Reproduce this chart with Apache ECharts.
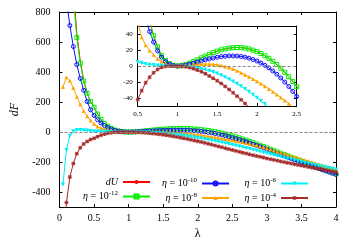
<!DOCTYPE html>
<html><head><meta charset="utf-8">
<script src="https://cdn.jsdelivr.net/npm/echarts@6/dist/echarts.min.js"></script>
<style>html,body{margin:0;padding:0;background:#fff}#c{width:350px;height:245px}</style>
</head><body><div id="c"></div>
<script>
const lambda = [0.05,0.10,0.15,0.20,0.25,0.30,0.35,0.40,0.45,0.50,0.55,0.60,0.65,0.70,0.75,0.80,0.85,0.90,0.95,1.00,
1.05,1.10,1.15,1.20,1.25,1.30,1.35,1.40,1.45,1.50,1.55,1.60,1.65,1.70,1.75,1.80,1.85,1.90,1.95,2.00,
2.05,2.10,2.15,2.20,2.25,2.30,2.35,2.40,2.45,2.50,2.55,2.60,2.65,2.70,2.75,2.80,2.85,2.90,2.95,3.00,
3.05,3.10,3.15,3.20,3.25,3.30,3.35,3.40,3.45,3.50,3.55,3.60,3.65,3.70,3.75,3.80,3.85,3.90,3.95,4.00];

const dU = [null,null,1600,960,660,475,345,260,203,165,120,84,56,38,24,13,7,3,0.8,0,
0.5,1.7,3.4,5.5,7.8,10.2,12.5,14.7,16.8,18.6,20.2,21.4,22.4,22.9,23.1,22.9,22.4,21.3,19.8,18.0,
15.6,12.8,9.6,5.9,1.8,-2.8,-7.9,-13.4,-19.4,-25.8,-32.4,-39.4,-46.8,-54.5,-62.5,-70.8,-79.3,-88,-96.9,-106,
-115,-124,-133,-142,-151,-160,-169,-178,-187,-196,-204.5,-213,-221.5,-230,-238.5,-247,-255.5,-264,-272,-280];

const eta12 = [null,null,1450,900,630,460,340,258,203,165,120,84,56,38,24,13,7,3,0.8,0,
0.5,1.7,3.4,5.5,7.8,10.2,12.5,14.7,16.8,18.6,20.2,21.4,22.4,22.9,23.1,22.9,22.4,21.3,19.8,18.0,
15.6,12.8,9.6,5.9,1.8,-2.8,-7.9,-13.4,-19.4,-25.8,-32.4,-39.4,-46.8,-54.5,-62.5,-70.8,-79.3,-88,-96.9,-106,
-115,-124,-133,-142,-151,-160,-169,-178,-187,-196,-204.5,-213,-221.5,-230,-238.5,-247,-255.5,-264,-272,-280];

const eta10 = [1150,880,710,570,450,357,278,203,148,110,82,60,43,30,19,11,5.5,2.2,0.5,0,
0.3,1.1,2.2,3.5,4.9,6.3,7.6,8.8,10.0,10.9,11.7,12.2,12.6,12.6,12.4,11.9,11.1,9.8,8.1,6.2,
3.7,0.8,-2.4,-6.2,-10.3,-15.0,-20.1,-25.6,-31.7,-38.1,-44.5,-51.3,-58.4,-65.8,-73.5,-81.4,-89.5,-97.8,-106.3,-115,
-123.8,-132.7,-141.6,-150.5,-159.4,-168.2,-177,-185.7,-194.3,-202.8,-211.2,-219.5,-227.7,-235.8,-243.8,-251.7,-259.5,-267.2,-274.8,-282.3];

const eta8 = [300,365,342,293,235,185,140,105,77,55,36,26,19.5,14,9,5.5,3,1.3,0.3,0,
0.3,0.8,1.3,1.8,2.2,2.5,2.6,2.5,2.1,1.5,0.6,-0.6,-2.0,-3.8,-5.9,-8.3,-11,-13.5,-16.2,-19,
-22,-25.2,-28.6,-32.1,-35.7,-39.4,-43.2,-47.1,-51.1,-55.2,-59.4,-63.8,-68.4,-73.3,-78.5,-84,-89.8,-95.9,-102.2,-108.7,
-115.4,-122.3,-129.3,-136.4,-143.5,-150.6,-157.7,-164.8,-171.9,-179,-186.1,-193.2,-200.3,-207.4,-214.5,-221.6,-228.7,-235.8,-242.9,-250];

const eta6 = [-350,-120,-25,5,14,14,12,9.5,7,5,3.6,2.5,1.7,1.1,0.6,0.3,0.1,0,0,0,
-0.2,-0.6,-1.1,-1.8,-2.6,-3.6,-4.7,-6,-7.6,-9.5,-11.6,-14,-16.6,-19.3,-22.3,-25.4,-28.7,-32.2,-35.8,-39.6,
-43.5,-47.6,-51.8,-56.2,-60.7,-65.3,-70.1,-75,-80,-85,-90.2,-95.5,-101,-106.5,-112.2,-118,-124,-130,-136,-142,
-148,-154,-159.8,-165.5,-171.2,-177,-182.5,-188,-193.5,-199,-204.2,-209.5,-214.8,-220,-225,-230,-235,-240,-245,-250];

const eta4 = [-900,-470,-300,-210,-145,-105,-80,-63,-50,-42,-31,-21,-14,-8.5,-4.3,-1.7,-0.5,-0.1,0,0,
-0.3,-1.0,-2.0,-3.4,-5.1,-7.1,-9.6,-12.5,-15.4,-18.5,-21.9,-25.5,-29.4,-33.5,-37.8,-42.2,-46.8,-51.5,-56.4,-61.5,
-66.9,-72.5,-78.2,-84,-90,-96,-102,-108,-114,-120,-126,-132,-137.8,-143.5,-149,-154.5,-159.8,-165,-170.5,-176,
-181,-186,-191,-196,-200.8,-205.5,-210.3,-215,-219.5,-224,-228.5,-233,-237.5,-242,-246.3,-250.5,-254.8,-259,-263,-267];

const mainYTicks = [-400,-200,0,200,400,600,800];
const insetYTicks = [-40,-20,0,20,40];

const seriesDefs = [
  {name:'dU', data:dU, color:'#ff0000', symbol:'none'},
  {name:'e12', data:eta12, color:'#00f000', symbol:'rect', hollow:true, size:4},
  {name:'e10', data:eta10, color:'#1010ff', symbol:'circle', hollow:true, size:4},
  {name:'e8', data:eta8, color:'#ffa500', symbol:'triangle', size:4},
  {name:'e6', data:eta6, color:'#00eef5', symbol:'triangle', rotate:180, size:4},
  {name:'e4', data:eta4, color:'#a52a2a', size:4, symbol:'path://M4,0H6V4H10V6H6V10H4V6H0V4H4Z M1.5,0.1L5,3.6L8.5,0.1L9.9,1.5L6.4,5L9.9,8.5L8.5,9.9L5,6.4L1.5,9.9L0.1,8.5L3.6,5L0.1,1.5Z'}
];
const legendText = {
  'dU':'{i|dU}',
  'e12':'{i|η} = 10{s|-12}',
  'e10':'{i|η} = 10{s|-10}',
  'e8':'{i|η} = 10{s|-8}',
  'e6':'{i|η} = 10{s|-6}',
  'e4':'{i|η} = 10{s|-4}'
};

const FONT = "'Liberation Serif','DejaVu Serif',serif";

function mkSeries(def, xi, yi, withZero){
  const s = {
    name:def.name, type:'line', xAxisIndex:xi, yAxisIndex:yi,
    data: lambda.map((x,i)=>[x, def.data[i]]),
    lineStyle:{color:def.color, width:1},
    itemStyle:{color:def.color, borderWidth:0},
    symbol: def.symbol==='none' ? 'none' : def.symbol,
    showSymbol: def.symbol!=='none',
    symbolSize: def.size||4,
    symbolRotate: def.rotate||0,
    clip:true, animation:false, silent:true
  };
  if (def.hollow){ s.itemStyle = {color:'transparent', borderColor:def.color, borderWidth:1}; }
  if (withZero){
    s.markLine = {silent:true, symbol:'none', label:{show:false},
      lineStyle:{type:[3,2], color:'#888', width:1}, data:[{yAxis:0}], animation:false};
  }
  return s;
}

const series = [];
seriesDefs.forEach((d,k)=>series.push(mkSeries(d,0,0,k===0)));
seriesDefs.forEach((d,k)=>series.push(mkSeries(d,2,2,k===0)));

const tickCommon = {inside:true, length:3, lineStyle:{color:'#000'}};
const lineCommon = {show:true, onZero:false, lineStyle:{color:'#000', width:1}};

function legendCol(names, right){
  return {
    data:names, orient:'vertical', align:'right', right:right, top:177,
    padding:0, itemGap:3, itemWidth:27, itemHeight:5,
    selectedMode:false,
    formatter: n => legendText[n],
    textStyle:{fontFamily:FONT, fontSize:10, color:'#000',
      rich:{i:{fontStyle:'italic', fontFamily:FONT, fontSize:10}, s:{fontSize:7, fontFamily:FONT, padding:[0,0,6,0]}}}
  };
}

const option = {
  animation:false,
  backgroundColor:'#fff',
  grid:[
    {left:59.5, top:12, width:276.5, height:200.6, containLabel:false},
    {left:137.7, top:26, width:159, height:80, containLabel:false, show:true, backgroundColor:'#fff', borderWidth:0}
  ],
  xAxis:[
    {type:'value', gridIndex:0, min:0, max:4, interval:0.5, position:'bottom',
     axisLine:lineCommon, axisTick:tickCommon, splitLine:{show:false},
     axisLabel:{fontFamily:FONT, fontSize:10, color:'#000', margin:6},
     name:'λ', nameLocation:'middle', nameGap:21, nameTextStyle:{fontFamily:FONT, fontSize:12, color:'#000'}},
    {type:'value', gridIndex:0, min:0, max:4, interval:0.5, position:'top',
     axisLine:lineCommon, axisTick:tickCommon, splitLine:{show:false}, axisLabel:{show:false}},
    {type:'value', gridIndex:1, min:0.5, max:2.5, interval:0.5, position:'bottom',
     axisLine:lineCommon, axisTick:tickCommon, splitLine:{show:false},
     axisLabel:{fontFamily:FONT, fontSize:7, color:'#000', margin:5}},
    {type:'value', gridIndex:1, min:0.5, max:2.5, interval:0.5, position:'top',
     axisLine:lineCommon, axisTick:tickCommon, splitLine:{show:false}, axisLabel:{show:false}}
  ],
  yAxis:[
    {type:'value', gridIndex:0, min:-500, max:800, position:'left',
     axisLine:lineCommon, axisTick:Object.assign({customValues:mainYTicks}, tickCommon), splitLine:{show:false},
     axisLabel:{customValues:mainYTicks, fontFamily:FONT, fontSize:10, color:'#000', margin:9},
     name:'dF', nameLocation:'middle', nameGap:32, nameRotate:90,
     nameTextStyle:{fontFamily:FONT, fontSize:12, fontStyle:'italic', color:'#000'}},
    {type:'value', gridIndex:0, min:-500, max:800, position:'right',
     axisLine:lineCommon, axisTick:Object.assign({customValues:mainYTicks}, tickCommon), splitLine:{show:false}, axisLabel:{show:false}},
    {type:'value', gridIndex:1, min:-50, max:50, position:'left',
     axisLine:lineCommon, axisTick:Object.assign({customValues:insetYTicks}, tickCommon), splitLine:{show:false},
     axisLabel:{customValues:insetYTicks, fontFamily:FONT, fontSize:7, color:'#000', margin:5}},
    {type:'value', gridIndex:1, min:-50, max:50, position:'right',
     axisLine:lineCommon, axisTick:Object.assign({customValues:insetYTicks}, tickCommon), splitLine:{show:false}, axisLabel:{show:false}}
  ],
  legend:[
    legendCol(['dU','e12'], 199),
    legendCol(['e10','e8'], 120),
    legendCol(['e6','e4'], 41)
  ],
  series: series
};

const chart = echarts.init(document.getElementById('c'), null, {renderer:'canvas'});
chart.setOption(option);
</script></body></html>
